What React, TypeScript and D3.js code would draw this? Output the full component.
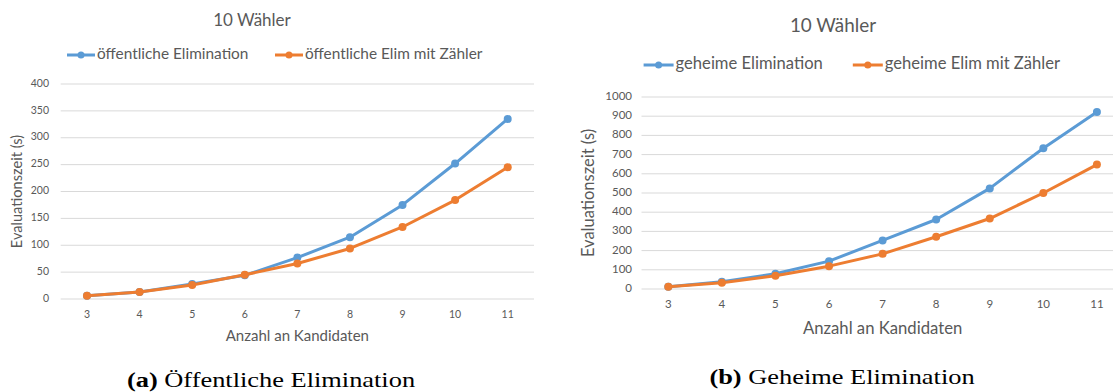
import React from 'react';
import * as d3 from 'd3';

// Anzahl an Kandidaten
const candidates = ['3', '4', '5', '6', '7', '8', '9', '10', '11'];

// Öffentliche Elimination (s)
const publicElim = [6, 13, 28, 44, 77, 115, 175, 252, 335];
const publicElimCounter = [6, 13, 26, 45, 66, 94, 134, 184, 245];

// Geheime Elimination (s)
const secretElim = [12, 38, 79, 145, 253, 362, 524, 733, 922];
const secretElimCounter = [12, 33, 69, 119, 183, 272, 367, 500, 648];

const leftTicks = [0, 50, 100, 150, 200, 250, 300, 350, 400];
const rightTicks = [0, 100, 200, 300, 400, 500, 600, 700, 800, 900, 1000];

const BLUE = '#5b9bd5';
const ORANGE = '#ed7d31';
const TEXT = '#595959';
const GRID = '#d9d9d9';
const FONT = 'Lato, "Open Sans", sans-serif';

type PanelProps = {
  x0: number; x1: number; yTop: number; yBottom: number; yMax: number;
  ticks: number[]; series: { name: string; values: number[]; color: string }[];
  tickSize: number; labelRight: number;
  titleX: number; titleY: number; titleSize: number;
  legendY: number; legendSize: number; legendX: number[]; legendLen: number;
  xLabelY: number; xTitleY: number; xTitleSize: number; yTitleX: number; yTitleSize: number;
};

const Panel = (p: PanelProps) => {
  const x = d3.scaleBand<string>().domain(candidates).range([p.x0, p.x1]);
  const y = d3.scaleLinear().domain([0, p.yMax]).range([p.yBottom, p.yTop]);
  const cx = (c: string) => (x(c) as number) + x.bandwidth() / 2;
  const line = d3.line<number>().x((_, i) => cx(candidates[i])).y(v => y(v));
  const mid = (p.x0 + p.x1) / 2;
  return (
    <g fontFamily={FONT} fill={TEXT}>
      <text x={p.titleX} y={p.titleY} textAnchor="middle" dominantBaseline="middle" fontSize={p.titleSize}>10 Wähler</text>
      {p.series.map((s, i) => (
        <g key={s.name} transform={`translate(${p.legendX[i]},${p.legendY})`}>
          <line x1={0} x2={p.legendLen} stroke={s.color} strokeWidth={3} />
          <circle cx={p.legendLen / 2} r={3.5} fill={s.color} />
          <text x={p.legendLen + 2} dominantBaseline="middle" fontSize={p.legendSize}>{s.name}</text>
        </g>
      ))}
      {p.ticks.map(t => (
        <g key={t}>
          <line x1={p.x0} x2={p.x1} y1={y(t)} y2={y(t)} stroke={GRID} strokeWidth={1} />
          <text x={p.labelRight} y={y(t)} textAnchor="end" dominantBaseline="middle" fontSize={p.tickSize}>{t}</text>
        </g>
      ))}
      {candidates.map(c => (
        <text key={c} x={cx(c)} y={p.xLabelY} textAnchor="middle" dominantBaseline="middle" fontSize={p.tickSize}>{c}</text>
      ))}
      <text x={mid} y={p.xTitleY} textAnchor="middle" dominantBaseline="middle" fontSize={p.xTitleSize}>Anzahl an Kandidaten</text>
      <text transform={`translate(${p.yTitleX},${(p.yTop + p.yBottom) / 2}) rotate(-90)`} textAnchor="middle" dominantBaseline="middle" fontSize={p.yTitleSize}>Evaluationszeit (s)</text>
      {p.series.map(s => (
        <g key={s.name}>
          <path d={line(s.values) || ''} fill="none" stroke={s.color} strokeWidth={3} strokeLinejoin="round" />
          {s.values.map((v, i) => (
            <circle key={i} cx={cx(candidates[i])} cy={y(v)} r={4} fill={s.color} />
          ))}
        </g>
      ))}
    </g>
  );
};

export default function App() {
  return (
    <svg width={1113} height={392} style={{ position: 'absolute', left: 0, top: 0, background: '#fff' }}>
      <Panel
        x0={60.7} x1={534} yTop={84} yBottom={299} yMax={400} ticks={leftTicks}
        series={[
          { name: 'öffentliche Elimination', values: publicElim, color: BLUE },
          { name: 'öffentliche Elim mit Zähler', values: publicElimCounter, color: ORANGE },
        ]}
        tickSize={10.5} labelRight={49}
        titleX={252} titleY={22} titleSize={17}
        legendY={55} legendSize={15.4} legendX={[67, 275]} legendLen={28}
        xLabelY={315.7} xTitleY={337} xTitleSize={15} yTitleX={18} yTitleSize={14.6}
      />
      <Panel
        x0={641.5} x1={1123.7} yTop={97} yBottom={289} yMax={1000} ticks={rightTicks}
        series={[
          { name: 'geheime Elimination', values: secretElim, color: BLUE },
          { name: 'geheime Elim mit Zähler', values: secretElimCounter, color: ORANGE },
        ]}
        tickSize={11.5} labelRight={632}
        titleX={833} titleY={27} titleSize={18.9}
        legendY={65} legendSize={16.6} legendX={[643.6, 852.8]} legendLen={30}
        xLabelY={305} xTitleY={330} xTitleSize={16.7} yTitleX={590} yTitleSize={16.5}
      />
      <g transform="translate(271,387) scale(1.2,1)">
        <text x={0} y={0} textAnchor="middle" fontFamily='"Liberation Serif", serif' fontSize={22} fill="#000">
          <tspan fontWeight="bold">(a)</tspan> Öffentliche Elimination
        </text>
      </g>
      <g transform="translate(842,384) scale(1.2,1)">
        <text x={0} y={0} textAnchor="middle" fontFamily='"Liberation Serif", serif' fontSize={22} fill="#000">
          <tspan fontWeight="bold">(b)</tspan> Geheime Elimination
        </text>
      </g>
    </svg>
  );
}
